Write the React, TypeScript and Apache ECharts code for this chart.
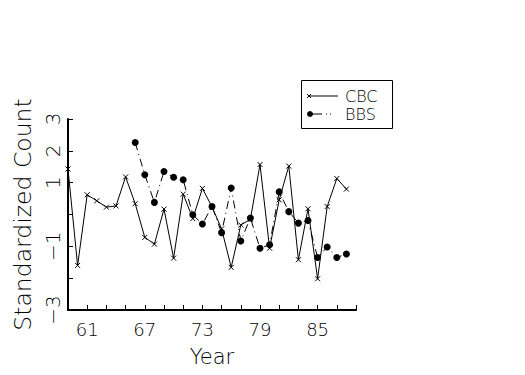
import React, { useEffect, useRef } from "react";
import * as echarts from "echarts";

const years = Array.from({ length: 31 }, (_, i) => String(59 + i));
const labelYears = ["61", "67", "73", "79", "85"];
const yLabels = [3, 2, 1, -1, -3];

const cbcYears = [59, 60, 61, 62, 63, 64, 65, 66, 67, 68, 69, 70, 71, 72, 73, 74, 75, 76, 77, 78, 79, 80, 81, 82, 83, 84, 85, 86, 87, 88];
const cbcValues = [1.43, -1.6, 0.62, 0.43, 0.23, 0.27, 1.18, 0.34, -0.72, -0.93, 0.17, -1.37, 0.64, -0.13, 0.82, 0.24, -0.45, -1.66, -0.33, -0.15, 1.57, -1.06, 0.46, 1.52, -1.42, 0.18, -2.02, 0.25, 1.13, 0.8];

const bbsYears = [66, 67, 68, 69, 70, 71, 72, 73, 74, 75, 76, 77, 78, 79, 80, 81, 82, 83, 84, 85, 86, 87, 88];
const bbsValues = [2.26, 1.25, 0.38, 1.35, 1.17, 1.09, -0.01, -0.3, 0.25, -0.57, 0.83, -0.83, -0.11, -1.06, -0.95, 0.71, 0.09, -0.27, -0.19, -1.35, -1.02, -1.35, -1.24];

const FONT = "DejaVu Sans";

function toSeries(ys: number[], vs: number[]) {
  return years.map((y) => {
    const i = ys.indexOf(Number(y));
    return i >= 0 ? vs[i] : null;
  });
}

export default function App() {
  const ref = useRef<HTMLDivElement>(null);
  useEffect(() => {
    if (!ref.current) return;
    const chart = echarts.init(ref.current, null, { renderer: "svg" });
    const xMark = "path://M0,0L10,10M10,0L0,10";
    chart.setOption({
      animation: false,
      backgroundColor: "#fff",
      grid: { left: 68, right: 169, top: 119, bottom: 65 },
      xAxis: {
        type: "category",
        data: years,
        boundaryGap: false,
        name: "Year",
        nameLocation: "middle",
        nameGap: 36,
        nameTextStyle: { fontFamily: FONT, fontSize: 21, fontWeight: 200, color: "#000" },
        axisLine: { onZero: false, lineStyle: { color: "#000", width: 2 } },
        axisTick: { inside: true, length: 5, interval: (i: number) => i % 2 === 0, lineStyle: { color: "#000", width: 1 } },
        axisLabel: {
          interval: (_i: number, v: string) => labelYears.includes(v),
          fontFamily: FONT,
          fontSize: 18,
          fontWeight: 200,
          color: "#000",
          margin: 10,
        },
        splitLine: { show: false },
      },
      yAxis: {
        type: "value",
        min: -3,
        max: 3,
        interval: 1,
        name: "Standardized Count",
        nameLocation: "middle",
        nameRotate: 90,
        nameGap: 33,
        nameTextStyle: { fontFamily: FONT, fontSize: 23.5, fontWeight: 200, color: "#000" },
        axisLine: { show: true, onZero: false, lineStyle: { color: "#000", width: 2 } },
        axisTick: { show: true, inside: true, length: 5, lineStyle: { color: "#000", width: 1 } },
        axisLabel: {
          rotate: 90,
          margin: 5,
          fontFamily: FONT,
          fontSize: 20,
          fontWeight: 200,
          color: "#000",
          formatter: (v: number) => (yLabels.includes(v) ? String(v).replace("-", "\u2212") : ""),
        },
        splitLine: { show: false },
      },
      series: [
        {
          name: "CBC",
          type: "line",
          data: toSeries(cbcYears, cbcValues),
          symbol: xMark,
          symbolSize: 5,
          showAllSymbol: true,
          lineStyle: { color: "#000", width: 1 },
          itemStyle: { color: "none", borderColor: "#000", borderWidth: 1 },
          z: 2,
        },
        {
          name: "BBS",
          type: "line",
          data: toSeries(bbsYears, bbsValues),
          symbol: "circle",
          symbolSize: 7,
          showAllSymbol: true,
          lineStyle: { color: "#000", width: 1, type: [8, 4, 1, 4] },
          itemStyle: { color: "#000" },
          z: 3,
        },
      ],
      graphic: [
        { type: "rect", shape: { x: 301.5, y: 80.5, width: 91, height: 48 }, style: { fill: "#fff", stroke: "#000", lineWidth: 1 } },
        { type: "line", shape: { x1: 309, y1: 96, x2: 338, y2: 96 }, style: { stroke: "#000", lineWidth: 1 } },
        { type: "line", shape: { x1: 307, y1: 94, x2: 311, y2: 98 }, style: { stroke: "#000", lineWidth: 1 } },
        { type: "line", shape: { x1: 311, y1: 94, x2: 307, y2: 98 }, style: { stroke: "#000", lineWidth: 1 } },
        { type: "text", x: 345, y: 96, style: { text: "CBC", fontFamily: FONT, fontSize: 16, fontWeight: 200, fill: "#000", verticalAlign: "middle" } },
        { type: "line", shape: { x1: 310, y1: 114, x2: 338, y2: 114 }, style: { stroke: "#000", lineWidth: 1, lineDash: [12, 4, 1, 3, 1, 20] } },
        { type: "circle", shape: { cx: 310, cy: 114, r: 3 }, style: { fill: "#000" } },
        { type: "text", x: 345, y: 114, style: { text: "BBS", fontFamily: FONT, fontSize: 16, fontWeight: 200, fill: "#000", verticalAlign: "middle" } },
      ],
    });
    return () => chart.dispose();
  }, []);
  return <div ref={ref} style={{ width: 525, height: 375, position: "absolute", left: 0, top: 0 }} />;
}
